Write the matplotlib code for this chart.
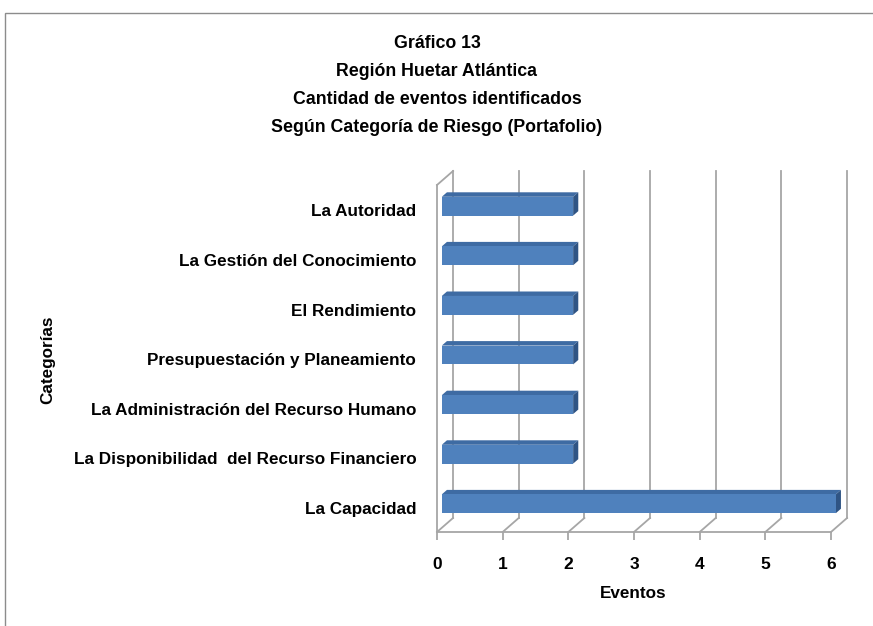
import matplotlib
matplotlib.use("Agg")
import matplotlib.pyplot as plt
from matplotlib.patches import Polygon, Rectangle

categories = [
    "La Capacidad",
    "La Disponibilidad  del Recurso Financiero",
    "La Administración del Recurso Humano",
    "Presupuestación y Planeamiento",
    "El Rendimiento",
    "La Gestión del Conocimiento",
    "La Autoridad",
]
values = [6, 2, 2, 2, 2, 2, 2]
x_ticks = [0, 1, 2, 3, 4, 5, 6]
title_lines = ["Gráfico 13", "Región Huetar Atlántica",
               "Cantidad de eventos identificados",
               "Según Categoría de Riesgo (Portafolio)"]

plt.rcParams['font.family'] = ['Liberation Sans', 'DejaVu Sans']

W, H = 873, 626
fig = plt.figure(figsize=(W / 100, H / 100), dpi=100)

# chart frame
fig.patches.append(Rectangle((5 / W, -0.1), 1.2, 1 - 13 / H + 0.1, transform=fig.transFigure,
                             fill=False, edgecolor="#8C8C8C", lw=1.0))

left_px, right_px, bot_px, top_px = 437, 831, 532, 185
ax = fig.add_axes([left_px / W, 1 - bot_px / H, (right_px - left_px) / W, (bot_px - top_px) / H])
ax.patch.set_alpha(0)

px_per_cat = 49.6
y0 = -(bot_px - 508) / px_per_cat
y1 = (508 - top_px) / px_per_cat
ax.set_xlim(0, 6)
ax.set_ylim(y0, y1)

DX = 16 / 65.5
DY = 14 / px_per_cat
grid_c = "#A6A6A6"
glw = 1.3

# walls and floor
ax.plot([0, 0], [y0, y1], color=grid_c, lw=glw, clip_on=False, zorder=1)
ax.plot([0, DX], [y1, y1 + DY], color=grid_c, lw=glw, clip_on=False, zorder=1)
for k in x_ticks:
    ax.plot([k + DX, k + DX], [y0 + DY, y1 + DY], color=grid_c, lw=glw, clip_on=False, zorder=1)
    ax.plot([k, k + DX], [y0, y0 + DY], color=grid_c, lw=glw, clip_on=False, zorder=1)

# bars (pseudo 3D)
d1, d2, h = 0.3, 0.62, 0.38
front_c, top_c, side_c = "#4F81BD", "#3E6BA3", "#2F5484"
for i, v in enumerate(values):
    c = i
    fx0, fx1 = d1 * DX, v + d1 * DX
    fyb, fyt = c - h / 2 + d1 * DY, c + h / 2 + d1 * DY
    bx0, bx1 = d2 * DX, v + d2 * DX
    byb, byt = c - h / 2 + d2 * DY, c + h / 2 + d2 * DY
    ax.add_patch(Polygon([(fx0, fyt), (fx1, fyt), (bx1, byt), (bx0, byt)],
                         closed=True, facecolor=top_c, edgecolor="none", zorder=3, clip_on=False))
    ax.add_patch(Polygon([(fx1, fyb), (bx1, byb), (bx1, byt), (fx1, fyt)],
                         closed=True, facecolor=side_c, edgecolor="none", zorder=3, clip_on=False))
    ax.add_patch(Rectangle((fx0, fyb), fx1 - fx0, fyt - fyb,
                           facecolor=front_c, edgecolor="none", zorder=4, clip_on=False))

for s in ["top", "right", "left"]:
    ax.spines[s].set_visible(False)
ax.spines["bottom"].set_color(grid_c)
ax.spines["bottom"].set_linewidth(glw)

ax.set_xticks(x_ticks)
ax.set_xticklabels([str(t) for t in x_ticks], fontsize=12.5, fontweight="bold")
ax.tick_params(axis="x", length=6, color=grid_c, width=glw, pad=12)
ax.set_yticks(range(len(categories)))
ax.set_yticklabels(categories, fontsize=12.3, fontweight="bold")
ax.tick_params(axis="y", length=0, pad=15)

fig.text(633 / W, 1 - 594 / H, "Eventos", ha="center", va="center", fontsize=12.3, fontweight="bold")
fig.text(48 / W, 1 - 360 / H, "Categorías", ha="center", va="center", rotation=90,
         fontsize=12.3, fontweight="bold")

for j, (t, yp) in enumerate(zip(title_lines, [44, 72, 99, 127])):
    fig.text(437 / W, 1 - yp / H, t, ha="center", va="center", fontsize=12.8, fontweight="bold")

fig.savefig("out.png", dpi=100)
